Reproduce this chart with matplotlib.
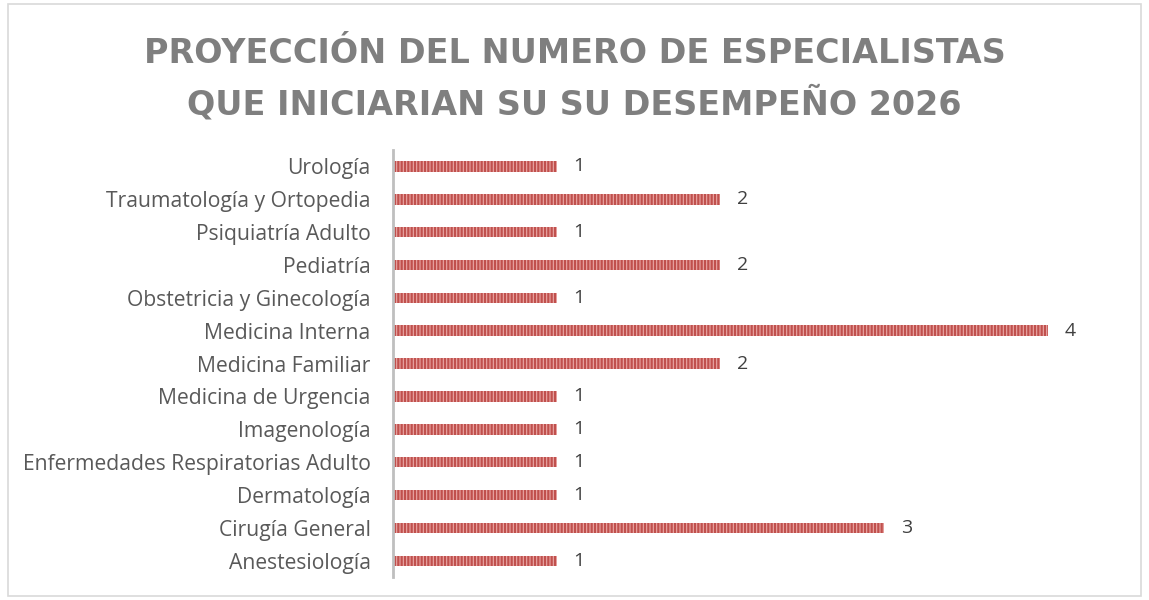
import matplotlib.pyplot as plt
from matplotlib.patches import Rectangle

plt.rcParams['font.family'] = ['Open Sans', 'DejaVu Sans']
plt.rcParams['hatch.linewidth'] = 1.6

especialidades = [
    "Anestesiología",
    "Cirugía General",
    "Dermatología",
    "Enfermedades Respiratorias Adulto",
    "Imagenología",
    "Medicina de Urgencia",
    "Medicina Familiar",
    "Medicina Interna",
    "Obstetricia y Ginecología",
    "Pediatría",
    "Psiquiatría Adulto",
    "Traumatología y Ortopedia",
    "Urología",
]
cantidades = [1, 3, 1, 1, 1, 1, 2, 4, 1, 2, 1, 2, 1]

titulo = "PROYECCIÓN DEL NUMERO DE ESPECIALISTAS\nQUE INICIARIAN SU SU DESEMPEÑO 2026"

fig = plt.figure(figsize=(11.49, 6), dpi=100)
ax = fig.add_axes([0.342, 0.038, 0.62, 0.712])

pos = list(range(len(especialidades)))
ax.barh(pos, cantidades, height=0.32, color="#EAA9A7", edgecolor="#C0504D",
        hatch="|||||", linewidth=0)

# etiquetas de valor al final de cada barra
for y, v in zip(pos, cantidades):
    ax.text(v + 0.1, y, str(v), va="center", ha="left", fontsize=14, color="#404040")

ax.set_ylim(-0.5, len(especialidades) - 0.5)
ax.set_xlim(0, 4.35)
ax.set_yticks(pos)
ax.set_yticklabels(especialidades, fontsize=15.2, color="#595959")
ax.tick_params(axis="y", length=0, pad=16)
ax.set_xticks([])
for s in ["top", "right", "bottom"]:
    ax.spines[s].set_visible(False)
ax.spines["left"].set_color("#BFBFBF")
ax.spines["left"].set_linewidth(2)

fig.text(0.5, 0.868, titulo, ha="center", va="center", fontsize=24, fontweight="bold",
         color="#7F7F7F", linespacing=1.55, family=["DejaVu Sans"])

fig.patches.append(Rectangle((8 / 1149, 4 / 600), 1133 / 1149, 592 / 600,
                             transform=fig.transFigure, fill=False,
                             edgecolor="#D9D9D9", linewidth=1.2))

fig.savefig("out.png", dpi=100)
